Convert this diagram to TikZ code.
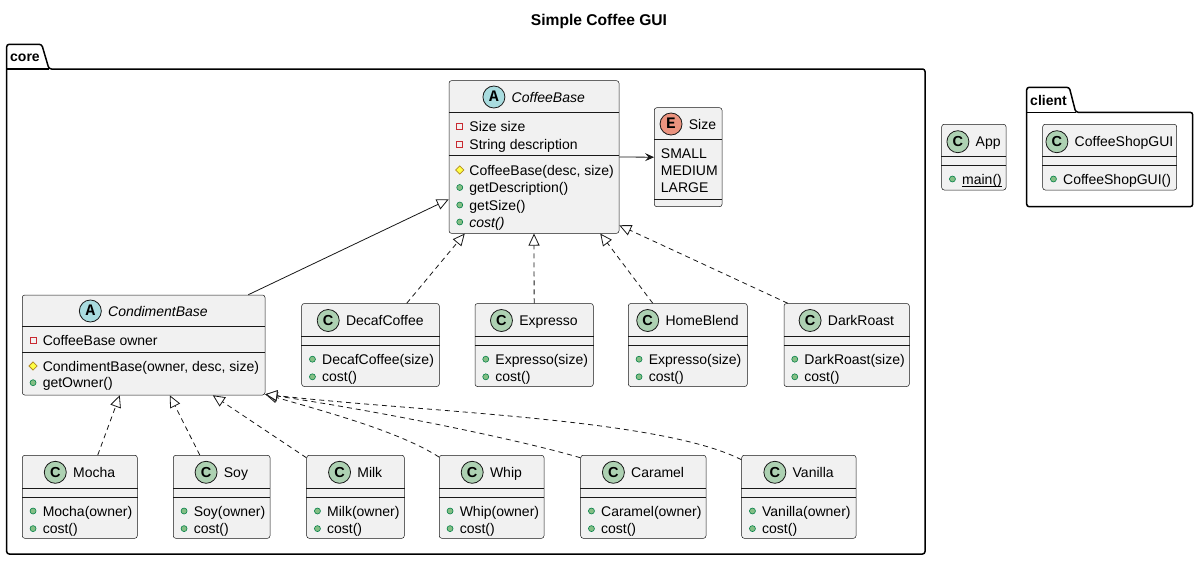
\documentclass[tikz,border=0pt]{standalone}
\usepackage{fontspec}
\setmainfont{Liberation Sans}
\newfontfamily\monofam{Liberation Mono}
\usetikzlibrary{arrows.meta,shapes.geometric,fit,calc}

\definecolor{boxfill}{HTML}{F1F1F1}
\definecolor{boxline}{HTML}{181818}
\definecolor{spotCc}{HTML}{ADD1B2}
\definecolor{spotAc}{HTML}{A9DCDF}
\definecolor{spotEc}{HTML}{EB937F}
\definecolor{privc}{HTML}{C82930}
\definecolor{protb}{HTML}{B38D22}
\definecolor{protf}{HTML}{FFFF44}
\definecolor{pubb}{HTML}{038048}
\definecolor{pubf}{HTML}{84BE84}

\newcommand\fs{\fontsize{14pt}{16pt}\selectfont}
\newcommand\titlefs{\fontsize{15.6pt}{18pt}\selectfont\bfseries}
\newcommand\spotCf{\fontsize{14.5pt}{14.5pt}\selectfont\bfseries}
\newcommand\spotMf{\monofam\fontsize{16pt}{16pt}\selectfont\bfseries}
\newcounter{nid}

\tikzset{
  umlbox/.style={draw=boxline, fill=boxfill, line width=0.5pt, rounded corners=2.5pt, inner sep=0pt},
  divline/.style={draw=boxline, line width=0.5pt},
  txt/.style={inner sep=0pt, text height=10pt, text depth=0pt, font=\fs},
  spot/.style={circle, draw=boxline, line width=0.8pt, minimum size=22pt, inner sep=0pt, text depth=0pt},
  spotc/.style={spot, fill=spotCc, font=\spotCf, text height=10.4pt},
  spota/.style={spot, fill=spotAc, font=\spotMf, text height=9.4pt},
  spote/.style={spot, fill=spotEc, font=\spotMf, text height=9.4pt},
  pubicon/.style={circle, draw=pubb, fill=pubf, line width=0.6pt, minimum size=6pt, inner sep=0pt},
  privicon/.style={rectangle, draw=privc, line width=0.9pt, minimum size=6pt, inner sep=0pt},
  proticon/.style={diamond, draw=protb, fill=protf, line width=0.8pt, minimum size=8.5pt, inner sep=0pt},
  ext/.style={draw=boxline, line width=0.8pt, -{Triangle[length=12pt,width=11pt,fill=white]}},
  realiz/.style={ext, dash pattern=on 5pt off 4pt},
  assoc/.style={draw=boxline, line width=0.8pt, -{Stealth[length=9pt,width=8pt,inset=3.5pt]}},
  pkg/.style={draw=black, line width=1.5pt, rounded corners=2.5pt},
}

% id, x1, y1, x2, y2
\newcommand\umlbox[5]{%
  \coordinate (#1-a) at (#2,#3); \coordinate (#1-b) at (#4,#5);
  \node[umlbox, fit=(#1-a)(#1-b)] (#1) {};}
% id, y
\newcommand\divl[2]{\draw[divline] (#1.west |- 0,#2) -- (#1.east |- 0,#2);}
% id, y, spot style, letter, name
\newcommand\umlhead[5]{%
  \path (#1.center |- 0,#2) coordinate (#1-hc);
  \node[txt] (#1-name) at ([xshift=14.3pt]#1-hc) {#5};
  \node[#3] (#1-spot) at ([xshift=-17.6pt]#1-name.west) {#4};}
% id, y, icon style, text
\newcommand\mem[4]{%
  \path (#1.west |- 0,#2) coordinate (#1-r);
  \stepcounter{nid}%
  \node[#3] (i\arabic{nid}) at ([xshift=11pt]#1-r) {};
  \node[txt, anchor=west] (t\arabic{nid}) at ([xshift=20.5pt]#1-r) {#4};}
% id, y, text (enum value)
\newcommand\val[3]{%
  \path (#1.west |- 0,#2) coordinate (#1-r);
  \stepcounter{nid}%
  \node[txt, anchor=west] (v\arabic{nid}) at ([xshift=6.7pt]#1-r) {#3};}
% id, x1, x2, top, name, ctor
\newcommand\cclass[6]{%
  \umlbox{#1}{#2}{#4}{#3}{#4+83}
  \umlhead{#1}{#4+17}{spotc}{C}{#5}
  \divl{#1}{#4+32.7}\divl{#1}{#4+41.7}
  \mem{#1}{#4+55.7}{pubicon}{#6}
  \mem{#1}{#4+73.3}{pubicon}{cost()}}

\begin{document}
\begin{tikzpicture}[x=1pt,y=-1pt]
\fill[white] (0,0) rectangle (1198,560);
\useasboundingbox (0,0) rectangle (1198,560);

\node[txt, font=\titlefs, text height=11pt] (title) at (599,20) {Simple Coffee GUI};

% packages
\draw[pkg] (6.7,554) -- (6.7,44.3) -- (41.7,44.3) -- (49,69) -- (925,69) -- (925,554) -- cycle;
\draw[line width=1.5pt] (6.7,69) -- (49,69);
\node[txt, font=\fs\bfseries, anchor=west] (corelbl) at (10,56.7) {core};

\draw[pkg] (1026.7,206.7) -- (1026.7,87.3) -- (1069.3,87.3) -- (1075.7,112.3) -- (1192.7,112.3) -- (1192.7,206.7) -- cycle;
\draw[line width=1.5pt] (1026.7,112.3) -- (1075.7,112.3);
\node[txt, font=\fs\bfseries, anchor=west] (clientlbl) at (1030,100.7) {client};

% CoffeeBase
\umlbox{cb}{449}{80.7}{619}{233.3}
\umlhead{cb}{97}{spota}{A}{\itshape CoffeeBase}
\divl{cb}{112.3}
\mem{cb}{126}{privicon}{Size size}
\mem{cb}{144.3}{privicon}{String description}
\divl{cb}{155.7}
\mem{cb}{170}{proticon}{CoffeeBase(desc, size)}
\mem{cb}{187.5}{pubicon}{getDescription()}
\mem{cb}{205}{pubicon}{getSize()}
\mem{cb}{222}{pubicon}{\itshape cost()}

% Size
\umlbox{sz}{654.3}{107.7}{722}{206.7}
\umlhead{sz}{124}{spote}{E}{Size}
\divl{sz}{139.3}
\val{sz}{153.3}{SMALL}
\val{sz}{170.7}{MEDIUM}
\val{sz}{187.7}{LARGE}
\divl{sz}{199}

% CondimentBase
\umlbox{cond}{22.3}{295}{265}{395}
\umlhead{cond}{311}{spota}{A}{\itshape CondimentBase}
\divl{cond}{326.7}
\mem{cond}{340.7}{privicon}{CoffeeBase owner}
\divl{cond}{352.3}
\mem{cond}{366}{proticon}{CondimentBase(owner, desc, size)}
\mem{cond}{382.7}{pubicon}{getOwner()}

% middle row
\cclass{decaf}{301.7}{439.3}{303.5}{DecafCoffee}{DecafCoffee(size)}
\cclass{exp}{475}{593.3}{303.5}{Expresso}{Expresso(size)}
\cclass{hb}{628.3}{747.3}{303.5}{HomeBlend}{Expresso(size)}
\cclass{dr}{784}{909.3}{303.5}{DarkRoast}{DarkRoast(size)}

% bottom row
\cclass{mocha}{22.3}{137.3}{455.3}{Mocha}{Mocha(owner)}
\cclass{soy}{173.3}{270}{455.3}{Soy}{Soy(owner)}
\cclass{milk}{306.7}{404.3}{455.3}{Milk}{Milk(owner)}
\cclass{whip}{439.3}{544}{455.3}{Whip}{Whip(owner)}
\cclass{caramel}{580.7}{706}{455.3}{Caramel}{Caramel(owner)}
\cclass{vanilla}{741.7}{856}{455.3}{Vanilla}{Vanilla(owner)}

% App
\umlbox{app}{941.7}{124.3}{1006}{190}
\umlhead{app}{141.7}{spotc}{C}{App}
\divl{app}{156}\divl{app}{165}
\mem{app}{179}{pubicon}{main()}
\draw[line width=0.7pt] ([yshift=-7.5pt]t\arabic{nid}.west) -- ([yshift=-7.5pt]t\arabic{nid}.east);

% CoffeeShopGUI
\umlbox{gui}{1042.7}{124.3}{1176.7}{190}
\umlhead{gui}{141.7}{spotc}{C}{CoffeeShopGUI}
\divl{gui}{156}\divl{gui}{165}
\mem{gui}{179}{pubicon}{CoffeeShopGUI()}

% connectors
\draw[ext] ([xshift=-17pt]cond.north east) -- ([yshift=34.3pt]cb.south west);
\draw[assoc] (cb.east) -- (sz.west);
\draw[realiz] ([xshift=105.3pt]decaf.north west) -- ([xshift=16pt]cb.south west);
\draw[realiz] (exp.north) -- (cb.south);
\draw[realiz] ([xshift=24.7pt]hb.north west) -- ([xshift=-19pt]cb.south east);
\draw[realiz] ([xshift=4pt]dr.north west) -- ([yshift=8.3pt]cb.south east);
\draw[realiz] ([xshift=75.7pt]mocha.north west) -- ([xshift=97.7pt]cond.south west);
\draw[realiz] ([xshift=26.7pt]soy.north west) -- ([xshift=147.7pt]cond.south west);
\draw[realiz] ([yshift=-2.7pt]milk.north west) -- ([xshift=190.7pt]cond.south west);
\draw[realiz] ([yshift=-2pt]whip.north west) .. controls (400,432) and (330,413) .. ([yshift=1pt]cond.south east);
\draw[realiz] ([yshift=-2.7pt]caramel.north west) .. controls (520,440) and (390,413) .. ([yshift=1pt]cond.south east);
\draw[realiz] ([yshift=-4.7pt]vanilla.north west) .. controls (660,418) and (420,412) .. ([yshift=1pt]cond.south east);
\end{tikzpicture}
\end{document}
